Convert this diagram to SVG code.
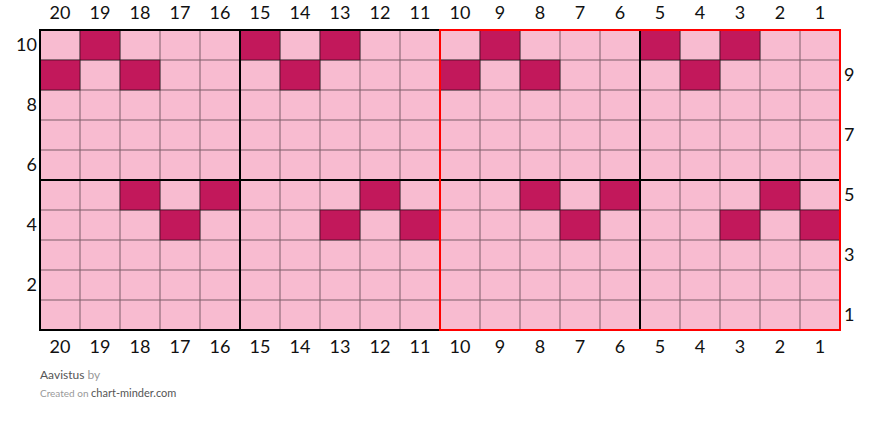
<svg xmlns="http://www.w3.org/2000/svg" width="880" height="423" viewBox="0 0 880 423">
<style>
.bg{fill:#ffffff}
.l{fill:#f8bbd0;stroke:#000;stroke-opacity:0.5;stroke-width:1}
.d{fill:#c2185b;stroke:#000;stroke-opacity:0.5;stroke-width:1}
.n{font-family:Lato,"Liberation Sans",sans-serif;font-size:18px;fill:#111}
.c{text-anchor:middle}
.thick{stroke:#000;stroke-width:2;fill:none}
.red{stroke:#ff0000;stroke-width:2;fill:none}
.f1{font-family:Lato,"Liberation Sans",sans-serif;font-size:12px;fill:#555}
.f2{font-family:Lato,"Liberation Sans",sans-serif;font-size:10px;fill:#999}
</style>
<defs>
<pattern id="grid" x="40" y="30" width="40" height="30" patternUnits="userSpaceOnUse">
<rect x="0" y="0" width="40" height="30" class="l"/>
</pattern>
</defs>
<rect class="bg" x="0" y="0" width="880" height="423"/>
<g id="chart">
<rect x="40" y="30" width="800" height="300" fill="url(#grid)"/>
<g id="cells">
<rect class="d" x="80" y="30" width="40" height="30"/>
<rect class="d" x="240" y="30" width="40" height="30"/>
<rect class="d" x="320" y="30" width="40" height="30"/>
<rect class="d" x="480" y="30" width="40" height="30"/>
<rect class="d" x="640" y="30" width="40" height="30"/>
<rect class="d" x="720" y="30" width="40" height="30"/>
<rect class="d" x="40" y="60" width="40" height="30"/>
<rect class="d" x="120" y="60" width="40" height="30"/>
<rect class="d" x="280" y="60" width="40" height="30"/>
<rect class="d" x="440" y="60" width="40" height="30"/>
<rect class="d" x="520" y="60" width="40" height="30"/>
<rect class="d" x="680" y="60" width="40" height="30"/>
<rect class="d" x="120" y="180" width="40" height="30"/>
<rect class="d" x="200" y="180" width="40" height="30"/>
<rect class="d" x="360" y="180" width="40" height="30"/>
<rect class="d" x="520" y="180" width="40" height="30"/>
<rect class="d" x="600" y="180" width="40" height="30"/>
<rect class="d" x="760" y="180" width="40" height="30"/>
<rect class="d" x="160" y="210" width="40" height="30"/>
<rect class="d" x="320" y="210" width="40" height="30"/>
<rect class="d" x="400" y="210" width="40" height="30"/>
<rect class="d" x="560" y="210" width="40" height="30"/>
<rect class="d" x="720" y="210" width="40" height="30"/>
<rect class="d" x="800" y="210" width="40" height="30"/>
</g>
<g id="dividers">
<line class="thick" x1="240" y1="30" x2="240" y2="330"/>
<line class="thick" x1="640" y1="30" x2="640" y2="330"/>
<line class="thick" x1="40" y1="180" x2="840" y2="180"/>
<rect class="thick" x="40" y="30" width="800" height="300"/>
<rect class="red" x="440" y="30" width="400" height="300"/>
</g>
</g>
<g id="top-labels" class="n c">
<text x="60" y="19">20</text><text x="100" y="19">19</text><text x="140" y="19">18</text><text x="180" y="19">17</text><text x="220" y="19">16</text>
<text x="260" y="19">15</text><text x="300" y="19">14</text><text x="340" y="19">13</text><text x="380" y="19">12</text><text x="420" y="19">11</text>
<text x="460" y="19">10</text><text x="500" y="19">9</text><text x="540" y="19">8</text><text x="580" y="19">7</text><text x="620" y="19">6</text>
<text x="660" y="19">5</text><text x="700" y="19">4</text><text x="740" y="19">3</text><text x="780" y="19">2</text><text x="820" y="19">1</text>
</g>
<g id="bottom-labels" class="n c">
<text x="60" y="353">20</text><text x="100" y="353">19</text><text x="140" y="353">18</text><text x="180" y="353">17</text><text x="220" y="353">16</text>
<text x="260" y="353">15</text><text x="300" y="353">14</text><text x="340" y="353">13</text><text x="380" y="353">12</text><text x="420" y="353">11</text>
<text x="460" y="353">10</text><text x="500" y="353">9</text><text x="540" y="353">8</text><text x="580" y="353">7</text><text x="620" y="353">6</text>
<text x="660" y="353">5</text><text x="700" y="353">4</text><text x="740" y="353">3</text><text x="780" y="353">2</text><text x="820" y="353">1</text>
</g>
<g id="left-labels" class="n" text-anchor="end">
<text x="37" y="51">10</text><text x="37" y="111">8</text><text x="37" y="171">6</text><text x="37" y="231">4</text><text x="37" y="291">2</text>
</g>
<g id="right-labels" class="n">
<text x="844" y="81">9</text><text x="844" y="141">7</text><text x="844" y="201">5</text><text x="844" y="261">3</text><text x="844" y="321">1</text>
</g>
<g id="footer">
<text x="40" y="379" class="f1">Aavistus <tspan fill="#999">by</tspan></text>
<text x="40" y="397" class="f2">Created on <tspan fill="#555" font-size="11px">chart-minder.com</tspan></text>
</g>
</svg>
